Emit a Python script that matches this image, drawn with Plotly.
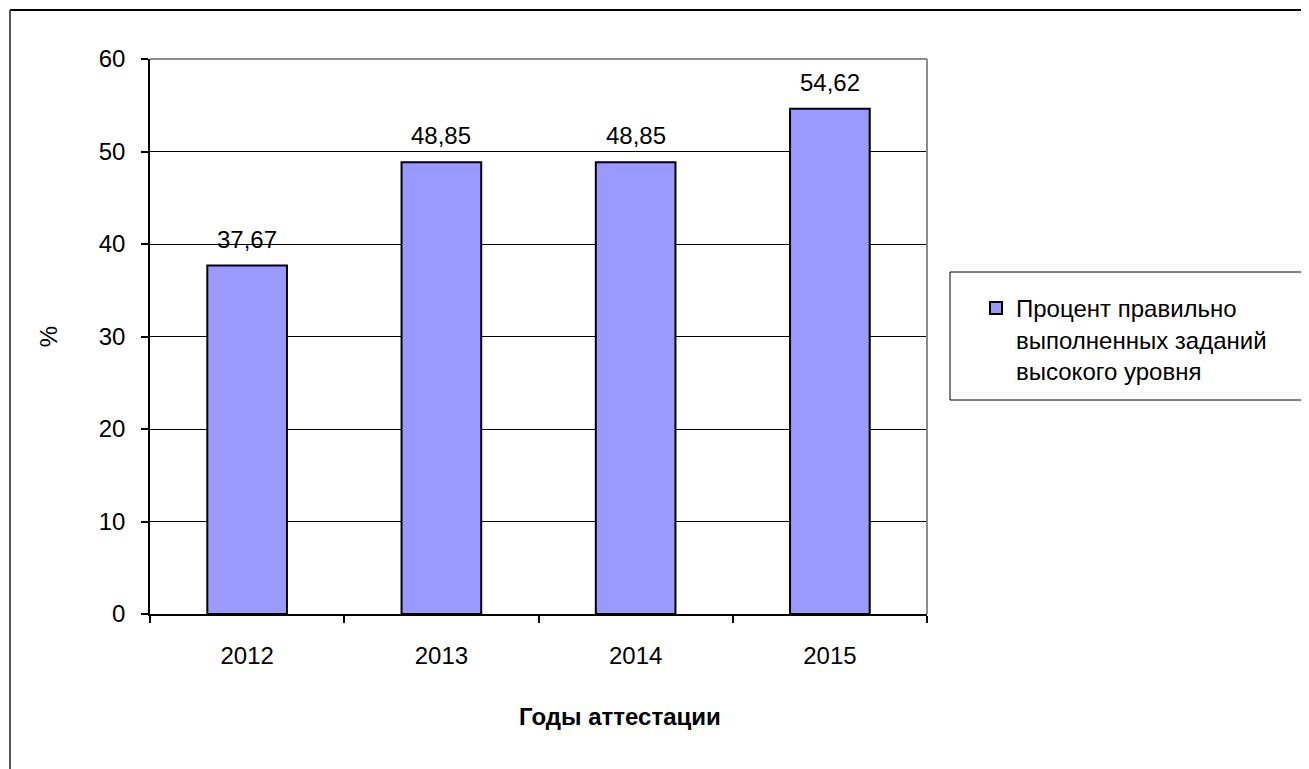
import plotly.graph_objects as go

years = ["2012", "2013", "2014", "2015"]
values = [37.67, 48.85, 48.85, 54.62]
series_name = "Процент правильно<br>выполненных заданий<br>высокого уровня"
x_title = "Годы аттестации"
y_title = "%"

OFF = 8  # browser body margin
W, H = 1309 - OFF, 769 - OFF
L, R, T, B = 150, 927, 59, 614  # page pixel coords of plot area
pw, ph = R - L, B - T

def px(x):
    return (x - L) / pw

def py(y):
    return (B - y) / ph

font = "Liberation Sans, Arial, sans-serif"
FS = 24

fig = go.Figure()
fig.add_trace(go.Bar(
    x=years, y=values, name=series_name,
    marker=dict(color="#9999FF", line=dict(color="black", width=2)),
    showlegend=True,
))

for i, v in enumerate(values):
    fig.add_annotation(
        x=i, y=v, xref="x", yref="y", text=f"{v:.2f}".replace(".", ","),
        showarrow=False, yanchor="bottom", xanchor="center", yshift=11,
        font=dict(family=font, size=FS, color="black"),
    )

fig.update_layout(
    width=W, height=H,
    margin=dict(l=L - OFF, r=W - (R - OFF), t=T - OFF, b=H - (B - OFF)),
    paper_bgcolor="white", plot_bgcolor="white",
    bargap=0.59,
    font=dict(family=font, size=FS, color="black"),
    showlegend=True,
    legend=dict(
        x=px(976), y=py(286), xanchor="left", yanchor="top",
        bgcolor="rgba(0,0,0,0)", borderwidth=0, valign="top",
        font=dict(family=font, size=FS, color="black"),
        itemwidth=30,
    ),
    xaxis=dict(
        type="category", categoryorder="array", categoryarray=years,
        range=[-0.5, len(years) - 0.5],
        showline=True, linecolor="black", linewidth=1.5,
        ticks="outside", ticklen=7, tickcolor="black", tickwidth=1.5,
        tickson="boundaries", showgrid=False, ticklabelstandoff=19,
        tickfont=dict(family=font, size=FS),
    ),
    yaxis=dict(
        range=[0, 60], dtick=10, showline=True, linecolor="black", linewidth=1.5,
        ticks="outside", ticklen=7, tickcolor="black", tickwidth=1.5,
        showgrid=True, gridcolor="black", gridwidth=1, zeroline=False,
        ticklabelstandoff=11,
        tickfont=dict(family=font, size=FS),
        title=dict(text=y_title, standoff=34, font=dict(family=font, size=FS)),
    ),
    shapes=[
        dict(type="line", xref="paper", yref="paper", x0=0, x1=1, y0=1, y1=1,
             line=dict(color="#8c8c8c", width=2)),
        dict(type="line", xref="paper", yref="paper", x0=1, x1=1, y0=0, y1=1,
             line=dict(color="#8c8c8c", width=2)),
        dict(type="rect", xref="paper", yref="paper",
             x0=px(950), x1=px(1308), y0=py(400), y1=py(272),
             line=dict(color="black", width=1)),
        dict(type="line", xref="paper", yref="paper",
             x0=px(10), x1=px(1320), y0=py(10), y1=py(10),
             line=dict(color="black", width=2)),
        dict(type="line", xref="paper", yref="paper",
             x0=px(10), x1=px(10), y0=py(10), y1=py(780),
             line=dict(color="#555555", width=2)),
    ],
)
fig.add_annotation(
    text="<b>" + x_title + "</b>", xref="paper", yref="paper",
    x=px(620), y=py(716), xanchor="center", yanchor="middle",
    showarrow=False, font=dict(family=font, size=FS, color="black"),
)

fig.write_html("out.html", config={"displayModeBar": False})
